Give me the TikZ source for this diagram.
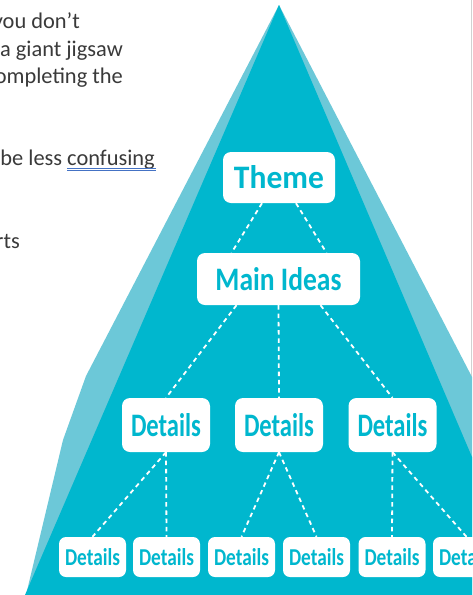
\documentclass[tikz,border=0pt]{standalone}
\usepackage{fontspec}
\setmainfont{Carlito}
\usetikzlibrary{calc}
\definecolor{pyr}{RGB}{0,183,206}
\definecolor{pyrlight}{RGB}{108,200,216}
\definecolor{txt}{RGB}{58,58,58}
\definecolor{spell}{RGB}{68,114,196}
\newcommand{\boxtext}[3]{\resizebox{#1}{#2}{\bfseries #3}}
\begin{document}
\begin{tikzpicture}[x=1pt,y=-1pt,
  box/.style={fill=white, rounded corners=8pt, inner sep=0pt, text=pyr},
  bigbox/.style={box, minimum width=#1, minimum height=52pt},
  midbox/.style={box, minimum width=88pt, minimum height=54pt},
  smallbox/.style={box, rounded corners=7pt, minimum width=67pt, minimum height=40pt},
  link/.style={draw=white, line width=1.8pt, dash pattern=on 4.5pt off 3.8pt},
  para/.style={text=txt, inner sep=0pt, anchor=base east, font=\fontsize{22.4}{27}\selectfont}]
\useasboundingbox (0,0) rectangle (472,595);
\fill[white] (0,0) rectangle (472,595);
\draw[black!18, line width=0.8pt] (471,0) -- (471,595);
% pyramid
\fill[pyrlight] (279,5) -- (472,377) -- (472,595) -- (26,595) -- (63,440) -- (86,376) -- cycle;
\fill[pyr] (279,5) -- (472,457) -- (472,595) -- (25,595) -- cycle;
% text on the left
\node[para] (l1) at (80,28) {you don’t};
\node[para] (l2) at (123,56) {a giant jigsaw};
\node[para] (l3) at (123,83) {ompleting the};
\node[para] (l4) at (155,165) {be less confusing};
\node[para] (l5) at (20,248) {rts};
\draw[spell, line width=0.8pt] ($(l4.base east)+(-88,3)$) -- ($(l4.base east)+(1,3)$);
\draw[spell, line width=0.8pt] ($(l4.base east)+(-88,5.3)$) -- ($(l4.base east)+(1,5.3)$);
% boxes
\node[box, minimum width=112pt, minimum height=51pt] (theme) at (279,177.5) {\boxtext{90pt}{23pt}{Theme}};
\node[bigbox=163pt] (main) at (278.5,279) {\boxtext{126pt}{23pt}{Main Ideas}};
\node[midbox] (d1) at (166,425) {\boxtext{70pt}{23pt}{Details}};
\node[midbox] (d2) at (279,425) {\boxtext{70pt}{23pt}{Details}};
\node[midbox] (d3) at (392.5,425) {\boxtext{70pt}{23pt}{Details}};
\node[smallbox] (e1) at (92.5,557) {\boxtext{55pt}{17pt}{Details}};
\node[smallbox] (e2) at (166.5,557) {\boxtext{55pt}{17pt}{Details}};
\node[smallbox] (e3) at (241.5,557) {\boxtext{55pt}{17pt}{Details}};
\node[smallbox] (e4) at (316.5,557) {\boxtext{55pt}{17pt}{Details}};
\node[smallbox] (e5) at (392,557) {\boxtext{55pt}{17pt}{Details}};
\node[smallbox] (e6) at (466.5,557) {\boxtext{55pt}{17pt}{Details}};
% connectors
\draw[link] ([xshift=-17pt]theme.south) -- ([xshift=-47pt]main.north);
\draw[link] ([xshift=17pt]theme.south) -- ([xshift=48pt]main.north);
\draw[link] ([xshift=-42pt]main.south) -- (d1.north);
\draw[link] (main.south) -- (d2.north);
\draw[link] ([xshift=42pt]main.south) -- (d3.north);
\draw[link] (d1.south) -- (e1.north);
\draw[link] (d1.south) -- (e2.north);
\draw[link] (d2.south) -- (e3.north);
\draw[link] (d2.south) -- (e4.north);
\draw[link] (d3.south) -- (e5.north);
\draw[link] (d3.south) -- (e6.north);
\end{tikzpicture}
\end{document}
